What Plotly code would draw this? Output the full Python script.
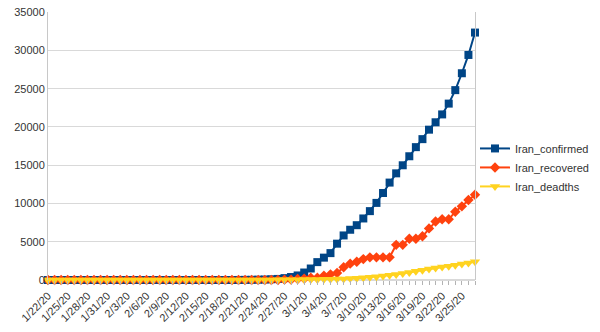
import plotly.graph_objects as go
import datetime as dt

start = dt.date(2020, 1, 22)
dates = [f"{d.month}/{d.day}/{d.year % 100}" for d in (start + dt.timedelta(days=i) for i in range(66))]

# values from 1/22/20 .. 3/27/20 (zeros until 2/19/20)
confirmed = [0] * 28 + [2, 5, 18, 28, 43, 61, 95, 139, 245, 388, 593, 978, 1501, 2336, 2922,
                        3513, 4747, 5823, 6566, 7161, 8042, 9000, 10075, 11364, 12729, 13938,
                        14991, 16169, 17361, 18407, 19644, 20610, 21638, 23049, 24811, 27017,
                        29406, 32332]
recovered = [0] * 28 + [0, 0, 0, 0, 0, 0, 0, 0, 49, 49, 123, 175, 291, 291, 552, 739, 913,
                        1669, 2134, 2394, 2731, 2959, 2959, 2959, 2959, 4590, 4590, 5389, 5389,
                        5710, 6745, 7635, 7931, 7931, 8913, 9625, 10457, 11133]
deaths = [0] * 28 + [2, 2, 4, 5, 8, 12, 16, 19, 26, 34, 43, 54, 66, 77, 92, 107, 124, 145,
                     194, 237, 291, 354, 429, 514, 611, 724, 853, 988, 1135, 1284, 1433, 1556,
                     1685, 1812, 1934, 2077, 2234, 2378]
y_ticks = [0, 5000, 10000, 15000, 20000, 25000, 30000, 35000]

series = [
    ("Iran_confirmed", confirmed, "#004586", "square", 8),
    ("Iran_recovered", recovered, "#ff420e", "diamond", 8),
    ("Iran_deadths", deaths, "#ffd320", "triangle-down", 9),
]

fig = go.Figure()
for name, vals, color, sym, size in series:
    fig.add_trace(go.Scatter(
        x=dates, y=vals, name=name, mode="lines+markers",
        line=dict(color=color, width=2),
        marker=dict(symbol=sym, size=size, color=color),
        cliponaxis=False,
    ))

ticktext = [d if i % 3 == 0 else "" for i, d in enumerate(dates)]

fig.update_layout(
    width=600, height=332,
    margin=dict(l=48, r=122, t=6, b=52),
    paper_bgcolor="white", plot_bgcolor="white",
    font=dict(family="Liberation Sans, Arial, sans-serif", size=11, color="#333333"),
    showlegend=True,
    legend=dict(x=1.0, xanchor="left", y=0.42, yanchor="middle",
                font=dict(size=11, color="#333333"), itemwidth=30,
                tracegroupgap=0, bgcolor="rgba(0,0,0,0)"),
)
fig.update_xaxes(
    type="category", range=[0, 65],
    tickmode="array", tickvals=dates, ticktext=ticktext,
    tickangle=-45, tickfont=dict(size=11),
    ticks="outside", ticklen=4, tickcolor="#b3b3b3",
    showgrid=False, showline=False, zeroline=False,
)
fig.update_yaxes(
    range=[0, 35020], tickmode="array", tickvals=y_ticks,
    ticktext=[str(v) for v in y_ticks],
    showgrid=True, gridcolor="#d9d9d9", gridwidth=1,
    showline=True, linecolor="#c8c8c8", mirror=True,
    zeroline=True, zerolinecolor="#d9d9d9",
    ticks="", tickfont=dict(size=11),
)

fig.write_html("out.html")
